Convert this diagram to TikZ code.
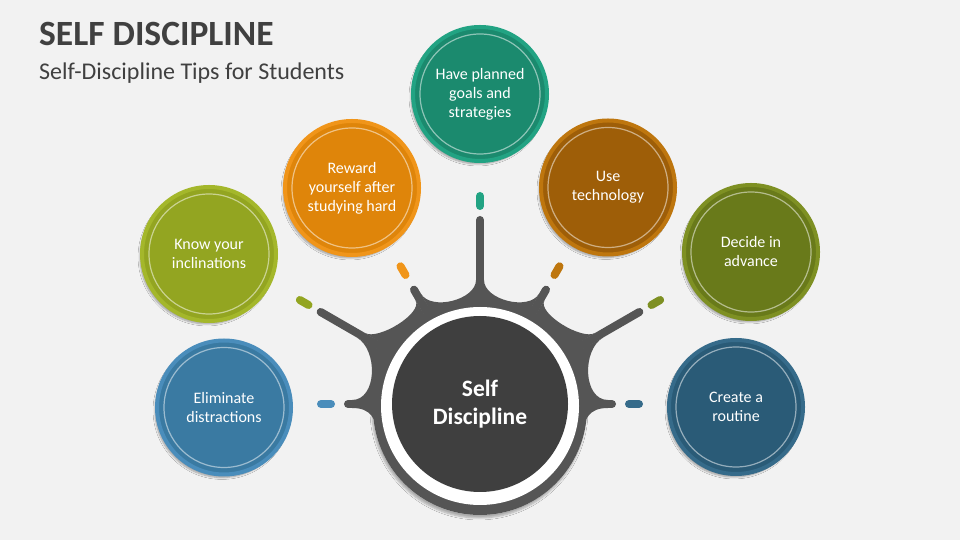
\documentclass[tikz,border=0pt]{standalone}
\usepackage{fontspec}
\setmainfont{Carlito}
\usetikzlibrary{calc,shadows.blur}
\definecolor{bg}{HTML}{F2F2F2}
\definecolor{titlegray}{HTML}{404040}
\definecolor{ringgray}{HTML}{555555}
\definecolor{coregray}{HTML}{3F3F3F}
\definecolor{cElimF}{HTML}{3A7AA2}
\definecolor{cElimB}{HTML}{4A8DBB}
\definecolor{cKnowF}{HTML}{93A521}
\definecolor{cKnowB}{HTML}{A4B72B}
\definecolor{cRewF}{HTML}{DF850A}
\definecolor{cRewB}{HTML}{F0951A}
\definecolor{cPlanF}{HTML}{1B8A6E}
\definecolor{cPlanB}{HTML}{22A383}
\definecolor{cTechF}{HTML}{9E5E08}
\definecolor{cTechB}{HTML}{BE760E}
\definecolor{cDecF}{HTML}{697A1A}
\definecolor{cDecB}{HTML}{7E9023}
\definecolor{cRouF}{HTML}{2A5B77}
\definecolor{cRouB}{HTML}{366B8A}
\tikzset{
  tipcircle/.style 2 args={circle, minimum size=134pt, inner sep=0pt, fill=#1, draw=#2,
    line width=4pt, text=white, align=center, font=\fontsize{16}{19}\selectfont,
    blur shadow={shadow xshift=-2pt, shadow yshift=-3pt, shadow blur steps=6, shadow opacity=35}},
  innerring/.style={white, opacity=0.5, line width=1.2pt},
  spokeline/.style={ringgray, line width=8pt, line cap=round},
  dashmark/.style={line width=8pt, line cap=round}
}
\begin{document}
\begin{tikzpicture}[x=1pt,y=1pt]
\fill[bg] (0,0) rectangle (960,540);
\useasboundingbox (0,0) rectangle (960,540);

% titles
\node[anchor=base west, inner sep=0pt, text=titlegray, font=\fontsize{35.5}{40}\selectfont\bfseries] (title) at (39,494) {SELF DISCIPLINE};
\node[anchor=base west, inner sep=0pt, text=titlegray, font=\fontsize{24}{28}\selectfont] (subtitle) at (39,460) {Self-Discipline Tips for Students};

% centre hub
\coordinate (C) at (480,136);
\coordinate (G) at (480,132);
\coordinate (W) at (480,134);
\fill[bg, blur shadow={shadow xshift=-1pt, shadow yshift=-3pt, shadow blur steps=6, shadow opacity=30}] (G) circle (107);
% webs between neighbouring spokes
\foreach \a/\b/\ra/\rb/\k in {0/30/128/140/25, 30/60/135/122/15, 60/90/125/124/20, 90/120/124/125/20, 120/150/122/135/15, 150/180/140/128/25}{
  \fill[ringgray] ($(C)+(\a:\ra)+(\a+90:4)$)
     .. controls ($(C)+(\a:\ra-\k)+(\a+90:4)$) and ($(C)+(\b:\rb-\k)+(\b-90:4)$)
     .. ($(C)+(\b:\rb)+(\b-90:4)$) -- (C) -- cycle;
}
% lower fillets of the horizontal spokes
\fill[ringgray] ($(C)+(180:128)+(270:4)$) .. controls ($(C)+(180:108)+(270:4)$) and ($(C)+(188:107)$) .. ($(C)+(198:104)$) -- (C) -- cycle;
\fill[ringgray] ($(C)+(0:128)+(-90:4)$) .. controls ($(C)+(0:108)+(-90:4)$) and ($(C)+(-8:107)$) .. ($(C)+(-18:104)$) -- (C) -- cycle;
% spokes
\foreach \a/\len in {0/132, 30/184, 60/132, 90/184, 120/132, 150/184, 180/132}{
  \draw[spokeline] (C) -- ($(C)+(\a:\len)$);
}
\fill[ringgray] (G) circle (107);
\fill[white] (W) circle (99);
\node[circle, fill=coregray, minimum size=176pt, inner sep=0pt, text=white, align=center,
      font=\fontsize{23.5}{28}\selectfont\bfseries] (core) at (C) {Self\\Discipline};

% dashes
\foreach \a/\r/\c in {180/149/cElimB, 150/198/cKnowF, 120/149/cRewB, 90/198/cPlanB, 60/149/cTechB, 30/198/cDecB, 0/149/cRouB}{
  \draw[dashmark, \c] ($(C)+(\a:\r)$) -- ($(C)+(\a:\r+10)$);
}

% tip circles
\node[tipcircle={cElimF}{cElimB}] (elim) at (224,132.5) {Eliminate\\distractions};
\node[tipcircle={cKnowF}{cKnowB}] (know) at (209,286) {Know your\\inclinations};
\node[tipcircle={cRewF}{cRewB}] (reward) at (352,352) {Reward\\yourself after\\studying hard};
\node[tipcircle={cPlanF}{cPlanB}] (plan) at (480,446) {Have planned\\goals and\\strategies};
\node[tipcircle={cTechF}{cTechB}] (tech) at (608,352.5) {Use\\technology};
\node[tipcircle={cDecF}{cDecB}] (decide) at (751,288) {Decide in\\advance};
\node[tipcircle={cRouF}{cRouB}] (routine) at (736,133) {Create a\\routine};
\foreach \n in {elim,know,reward,plan,tech,decide,routine}{
  \draw[innerring] (\n.center) circle (60);
}
\end{tikzpicture}
\end{document}
